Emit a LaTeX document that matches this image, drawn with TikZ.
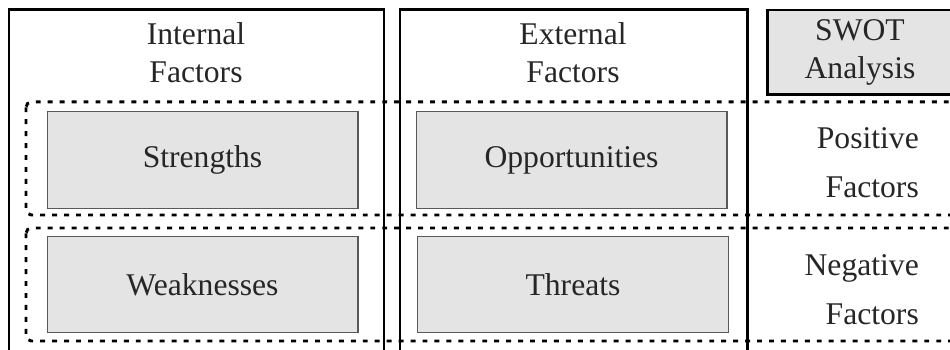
\documentclass[tikz,border=0pt]{standalone}
\usepackage{fontspec}
\setmainfont{Liberation Serif}
\usetikzlibrary{positioning}
\definecolor{boxgray}{HTML}{E4E4E4}

\begin{document}
\begin{tikzpicture}[x=0.02cm, y=-0.02cm,
        every node/.style={font=\fontsize{18}{21.5}\selectfont, text=black!85},
        factor/.style={draw=black!65, line width=0.6pt, fill=boxgray, minimum width=6.22cm, minimum height=1.93cm, inner sep=0pt},
        frame/.style={draw, line width=1.7pt},
        band/.style={draw, line width=1.7pt, dash pattern=on 2.8pt off 4pt, rounded corners=3pt},
        sidelabel/.style={anchor=east, align=right, font=\fontsize{18}{28}\selectfont}]
    \useasboundingbox (0,0) rectangle (950,350);
    \clip (0,0) rectangle (950,350);
    % rows
    \draw[band] (26,102) rectangle (990,215);
    \draw[band] (26,228) rectangle (990,341);
    % columns
    \draw[frame] (9,10) rectangle (384,380);
    \draw[frame] (400,10) rectangle (747,380);
    % headers
    \node [align=center] (int) at (196,53) {Internal\\Factors};
    \node [align=center] (ext) at (573,53) {External\\Factors};
    \node [draw, line width=1.7pt, fill=boxgray, minimum width=3.72cm, minimum height=1.7cm, inner sep=0pt, align=center] (swot) at (860,52.5) {SWOT\\Analysis};
    % quadrants
    \node [factor] (str) at (202.5,160) {Strengths};
    \node [factor] (opp) at (571.5,160) {Opportunities};
    \node [factor] (weak) at (202.5,284.5) {Weaknesses};
    \node [factor] (thr) at (573,284.5) {Threats};
    \node [sidelabel] (pos) at (925,163) {Positive\\Factors};
    \node [sidelabel] (neg) at (925,290) {Negative\\Factors};
\end{tikzpicture}
\end{document}
